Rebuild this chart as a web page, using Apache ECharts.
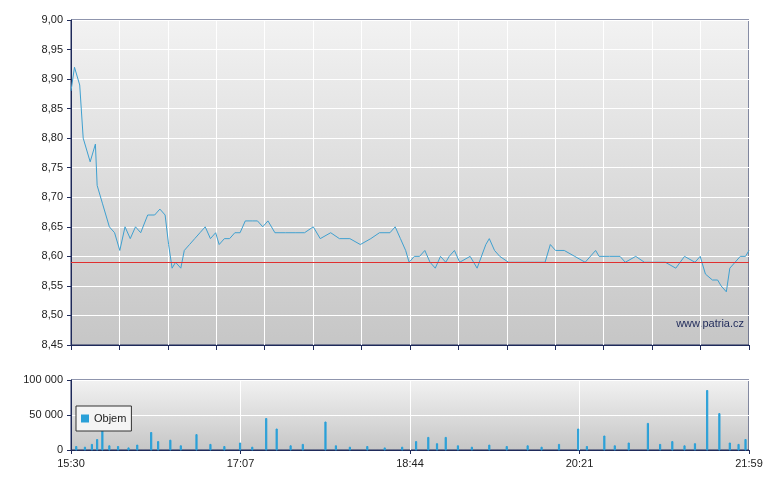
<!DOCTYPE html><html><head><meta charset="utf-8"><script src="https://cdn.jsdelivr.net/npm/echarts@6/dist/echarts.min.js"></script></head><body style="margin:0;background:#fff"><div id="c" style="width:780px;height:490px"></div><script>
const minutes=[0,2,5,7,11,14,15,18,22,25,28,31,34,37,40,44,48,51,54,56,58,60,63,65,68,71,74,77,80,83,85,88,91,94,97,100,104,107,110,113,117,123,129,134,139,143,149,154,160,166,172,177,183,186,189,192,194,197,200,203,206,209,212,215,217,220,223,229,233,238,240,243,246,251,255,260,266,272,275,278,283,289,295,301,303,309,315,318,324,329,335,341,347,352,358,361,364,368,371,373,376,378,381,384,387,389];
const prices=[8.88,8.92,8.89,8.80,8.76,8.79,8.72,8.69,8.65,8.64,8.61,8.65,8.63,8.65,8.64,8.67,8.67,8.68,8.67,8.62,8.58,8.59,8.58,8.61,8.62,8.63,8.64,8.65,8.63,8.64,8.62,8.63,8.63,8.64,8.64,8.66,8.66,8.66,8.65,8.66,8.64,8.64,8.64,8.64,8.65,8.63,8.64,8.63,8.63,8.62,8.63,8.64,8.64,8.65,8.63,8.61,8.59,8.60,8.60,8.61,8.59,8.58,8.60,8.59,8.60,8.61,8.59,8.60,8.58,8.62,8.63,8.61,8.60,8.59,8.59,8.59,8.59,8.59,8.62,8.61,8.61,8.60,8.59,8.61,8.60,8.60,8.60,8.59,8.60,8.59,8.59,8.59,8.58,8.60,8.59,8.60,8.57,8.56,8.56,8.55,8.54,8.58,8.59,8.60,8.60,8.61];
const refPrice=8.59;
const volMinutes=[3,8,12,15,18,22,27,33,38,46,50,57,63,72,80,88,97,104,112,118,126,133,146,152,160,170,180,190,198,205,210,215,222,230,240,250,262,270,280,291,296,306,312,320,331,338,345,352,358,365,372,378,383,387];
const volumes=[5000,4000,8000,15000,30000,6000,5000,3000,7000,25000,12000,14000,6000,22000,8000,5000,10000,4000,45000,30000,6000,8000,40000,6000,4000,5000,3000,4000,12000,18000,9000,18000,6000,4000,7000,5000,6000,4000,8000,30000,5000,20000,6000,10000,38000,8000,12000,6000,9000,85000,52000,10000,8000,15000];
const ch=echarts.init(document.getElementById('c'));
const bg=new echarts.graphic.LinearGradient(0,0,0,1,[{offset:0,color:'#f2f2f2'},{offset:1,color:'#c6c6c6'}]);
const fmt=v=>{const t=930+Math.floor(v+0.001);return Math.floor(t/60)+':'+String(t%60).padStart(2,'0');};
const axLine={lineStyle:{color:'#1f2a5a'}};
const lbl={color:'#222',fontFamily:'Arial',fontSize:11};
ch.setOption({animation:false,
grid:[{left:71,right:31,top:20,height:325,show:true,backgroundColor:bg,borderColor:'#1f2a5a'},{left:71,right:31,top:380,height:70,show:true,backgroundColor:bg,borderColor:'#1f2a5a'}],
xAxis:[{type:'value',gridIndex:0,min:0,max:389,interval:389/14,axisLabel:{show:false},axisTick:{length:5,inside:false,lineStyle:{color:'#1f2a5a'}},axisLine:axLine,splitLine:{lineStyle:{color:'#fff'}}},
{type:'value',gridIndex:1,min:0,max:389,interval:389/4,axisLabel:Object.assign({formatter:fmt,showMinLabel:true,showMaxLabel:true},lbl),axisTick:{length:4,lineStyle:{color:'#1f2a5a'}},axisLine:axLine,splitLine:{lineStyle:{color:'#fff'}}}],
yAxis:[{type:'value',gridIndex:0,min:8.45,max:9.0,interval:0.05,axisLabel:Object.assign({formatter:v=>v.toFixed(2).replace('.',',')},lbl),axisLine:{show:true,lineStyle:{color:'#1f2a5a'}},axisTick:{show:true,length:4},splitLine:{lineStyle:{color:'#fff'}}},
{type:'value',gridIndex:1,min:0,max:100000,interval:50000,axisLabel:Object.assign({formatter:v=>v===0?'0':String(v).replace(/\B(?=(\d{3})+$)/g,' ')},lbl),axisLine:{show:true,lineStyle:{color:'#1f2a5a'}},axisTick:{show:true,length:4},splitLine:{lineStyle:{color:'#fff'}}}],
legend:{data:['Objem'],left:76,top:406,orient:'vertical',itemWidth:8,itemHeight:8,icon:'rect',backgroundColor:'#f4f4f4',borderColor:'#333',borderWidth:1,padding:[7,5],textStyle:{fontSize:11,fontFamily:'Arial',color:'#222'}},
graphic:[{type:'text',right:36,top:318,style:{text:'www.patria.cz',fill:'#1f2a5a',font:'11px Arial'}}],
series:[{type:'line',xAxisIndex:0,yAxisIndex:0,data:minutes.map((m,i)=>[m,prices[i]]),symbol:'none',lineStyle:{color:'#3fa0d0',width:1},
markLine:{silent:true,symbol:'none',label:{show:false},lineStyle:{color:'#e03030',type:'solid',width:1},data:[{yAxis:refPrice}]}},
{name:'Objem',type:'bar',xAxisIndex:1,yAxisIndex:1,data:volMinutes.map((m,i)=>[m,volumes[i]]),barWidth:1.2,itemStyle:{color:'#2aa0d8',borderColor:'#2aa0d8'}}]});
</script></body></html>
